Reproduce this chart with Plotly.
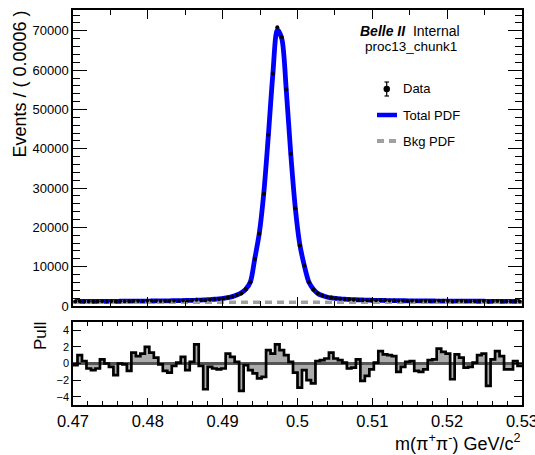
import numpy as np
import plotly.graph_objects as go

# ---- binning -------------------------------------------------------------
mass_range = [0.47, 0.53]
bin_width = 0.0006
n_bins = 100

# ---- events per bin (m(pi+pi-) histogram) --------------------------------
events = [
    1143, 1189, 1170, 1145, 1143, 1154, 1197, 1186, 1178, 1150,
    1205, 1209, 1189, 1274, 1269, 1288, 1327, 1313, 1304, 1288,
    1274, 1282, 1329, 1364, 1413, 1380, 1448, 1564, 1508, 1449,
    1620, 1691, 1788, 1925, 2190, 2439, 2811, 3208, 4300, 6040,
    12000, 18360, 28550, 43580, 59120, 70900, 68440, 55120, 38740, 24890,
    15380, 10290, 6040, 4143, 3217, 2671, 2324, 2139, 1956, 1837,
    1739, 1644, 1592, 1586, 1445, 1436, 1438, 1444, 1475, 1439,
    1417, 1397, 1313, 1322, 1332, 1325, 1272, 1259, 1261, 1292,
    1288, 1327, 1306, 1291, 1176, 1276, 1256, 1209, 1207, 1219,
    1246, 1248, 1108, 1215, 1246, 1221, 1162, 1158, 1188, 1165,
]

# ---- pull per bin: (data - fit) / error ---------------------------------
pulls = [
    -0.2, 1.0, 0.3, -0.6, -0.8, -0.6, 0.5, 0.0, -0.4, -1.4,
    0.0, -0.1, -0.9, 1.3, 0.9, 1.2, 2.0, 1.3, 0.7, -0.1,
    -0.9, -1.1, -0.3, 0.1, 0.8, -0.8, 0.2, 2.3, -0.3, -3.1,
    -0.4, -0.6, -0.7, -0.6, 1.2, 0.8, 0.2, -3.3, -0.2, -0.8,
    -1.2, -1.8, -1.6, 1.6, 1.2, 2.3, 1.6, 1.0, 0.2, -1.1,
    -2.9, -0.8, -2.0, -2.4, 0.3, 0.4, 0.6, 1.3, 0.6, 0.4,
    0.1, -0.6, -0.5, 0.5, -2.1, -1.5, -0.7, 0.1, 1.5, 1.1,
    1.0, 0.9, -1.0, -0.4, 0.2, 0.3, -0.9, -1.0, -0.7, 0.4,
    0.5, 1.8, 1.4, 1.2, -1.9, 1.1, 0.7, -0.5, -0.4, 0.1,
    1.0, 1.2, -2.7, 0.5, 1.5, 0.9, -0.7, -0.7, 0.3, -0.3,
]

# background PDF level at the two ends of the mass window
bkg_pdf_ends = [980, 930]

# axis tick labels
main_y_ticks = [0, 10000, 20000, 30000, 40000, 50000, 60000, 70000]
mass_ticks = [0.47, 0.48, 0.49, 0.50, 0.51, 0.52, 0.53]
mass_tick_labels = ["0.47", "0.48", "0.49", "0.5", "0.51", "0.52", "0.53"]
pull_ticks = [-4, -2, 0, 2, 4]
pull_tick_labels = ["\u22124", "\u22122", "0", "2", "4"]

# ---- derived quantities --------------------------------------------------
edges = np.linspace(mass_range[0], mass_range[1], n_bins + 1)
centers = 0.5 * (edges[:-1] + edges[1:])
counts = np.array(events, dtype=float)
errors = np.sqrt(counts)
total_pdf = counts - np.array(pulls) * errors

W, H = 535, 455
FONT = "Liberation Sans"


def px(x):
    return x / W


def py(y):
    return 1 - y / H


x_dom = [px(73), px(522)]
main_dom = [py(306), py(10)]
pull_dom = [py(405), py(322)]

fig = go.Figure()

# main panel: total PDF, background PDF, data
fig.add_trace(go.Scatter(
    x=centers, y=total_pdf, mode="lines",
    line=dict(color="#0000ff", width=4.8, shape="spline", smoothing=0.8),
    xaxis="x", yaxis="y", hoverinfo="skip"))
fig.add_trace(go.Scatter(
    x=mass_range, y=bkg_pdf_ends, mode="lines",
    line=dict(color="#a0a0a0", width=3.5, dash="7px,5px"),
    xaxis="x", yaxis="y", hoverinfo="skip"))
fig.add_trace(go.Scatter(
    x=centers, y=counts, mode="markers",
    marker=dict(color="black", size=4),
    error_y=dict(type="data", array=errors, thickness=1, width=0, color="black"),
    xaxis="x", yaxis="y"))

# pull panel: filled bars, zero line, step outline
fig.add_trace(go.Bar(
    x=centers, y=pulls, width=bin_width,
    marker=dict(color="#ababab", line=dict(width=0)),
    xaxis="x2", yaxis="y2", hoverinfo="skip"))
fig.add_trace(go.Scatter(
    x=mass_range, y=[0, 0], mode="lines",
    line=dict(color="#555555", width=3),
    xaxis="x2", yaxis="y2", hoverinfo="skip"))
fig.add_trace(go.Scatter(
    x=edges, y=list(pulls) + [pulls[-1]], mode="lines",
    line=dict(color="black", width=2.7, shape="hv"),
    xaxis="x2", yaxis="y2", hoverinfo="skip"))

axis_common = dict(
    showline=True, linecolor="black", linewidth=1.5, mirror="ticks",
    ticks="inside", tickcolor="black", tickwidth=1,
    showgrid=False, zeroline=False, automargin=False,
    tickfont=dict(family=FONT, color="black"),
)

fig.update_layout(
    width=W, height=H,
    margin=dict(l=0, r=0, t=0, b=0, autoexpand=False),
    paper_bgcolor="white", plot_bgcolor="white",
    showlegend=False, bargap=0,
    font=dict(family=FONT, color="black"),
    xaxis=dict(
        axis_common, domain=x_dom, range=mass_range, anchor="y",
        tick0=mass_range[0], dtick=0.01, ticklen=9, showticklabels=False,
        minor=dict(ticks="inside", tick0=mass_range[0], dtick=0.005,
                   ticklen=5, tickcolor="black"),
    ),
    yaxis=dict(
        axis_common, domain=main_dom, range=[0, 75300], anchor="x",
        tickmode="array", tickvals=main_y_ticks, tickformat="d", ticklen=14,
        tickfont=dict(family=FONT, size=13, color="black"),
        minor=dict(ticks="inside", tickmode="linear", tick0=0, dtick=2000,
                   ticklen=7, tickcolor="black"),
    ),
    xaxis2=dict(
        axis_common, domain=x_dom, range=mass_range, anchor="y2",
        tickmode="array", tickvals=mass_ticks, ticktext=mass_tick_labels,
        ticklabeloverflow="allow",
        ticklen=7, tickfont=dict(family=FONT, size=16.5, color="black"),
        minor=dict(ticks="inside", tickmode="linear", tick0=mass_range[0],
                   dtick=0.002, ticklen=4, tickcolor="black"),
    ),
    yaxis2=dict(
        axis_common, domain=pull_dom, range=[-5, 5], anchor="x2",
        tickmode="array", tickvals=pull_ticks, ticktext=pull_tick_labels,
        ticklen=8, tickfont=dict(family=FONT, size=11, color="black"),
    ),
)

annotations = [
    dict(text="Events / ( 0.0006 )", textangle=-90, x=px(19), y=py(9),
         xanchor="center", yanchor="top", font=dict(size=18)),
    dict(text="Pull", textangle=-90, x=px(40), y=py(320),
         xanchor="center", yanchor="top", font=dict(size=17)),
    dict(text="m(\u03c0<sup>+</sup>\u03c0<sup>-</sup>) GeV/c<sup>2</sup>",
         x=px(522), y=py(442), xanchor="right", yanchor="middle",
         font=dict(size=18)),
    dict(text="<b><i>Belle II</i></b>\u00a0 Internal", x=px(410), y=py(31),
         xanchor="center", yanchor="middle", font=dict(size=14)),
    dict(text="proc13_chunk1", x=px(410.5), y=py(47),
         xanchor="center", yanchor="middle", font=dict(size=13.5)),
    dict(text="Data", x=px(401), y=py(89), xanchor="left", yanchor="middle",
         font=dict(size=13)),
    dict(text="Total PDF", x=px(401), y=py(115), xanchor="left",
         yanchor="middle", font=dict(size=13)),
    dict(text="Bkg PDF", x=px(401), y=py(141), xanchor="left",
         yanchor="middle", font=dict(size=13)),
]
for a in annotations:
    a.update(xref="paper", yref="paper", showarrow=False)
fig.update_layout(annotations=annotations)

# legend glyphs
shapes = [
    # data: error bar with caps and a filled dot
    dict(type="line", x0=px(386.7), x1=px(386.7), y0=py(82), y1=py(96),
         line=dict(color="black", width=1.2)),
    dict(type="line", x0=px(384.5), x1=px(389), y0=py(82), y1=py(82),
         line=dict(color="black", width=1.2)),
    dict(type="line", x0=px(384.5), x1=px(389), y0=py(96), y1=py(96),
         line=dict(color="black", width=1.2)),
    dict(type="circle", x0=px(383.5), x1=px(390), y0=py(92.2), y1=py(85.8),
         fillcolor="black", line=dict(color="black", width=0)),
    # total PDF
    dict(type="line", x0=px(377), x1=px(397), y0=py(115), y1=py(115),
         line=dict(color="#0000ff", width=4.5)),
    # background PDF
    dict(type="line", x0=px(377), x1=px(396), y0=py(141), y1=py(141),
         line=dict(color="#a0a0a0", width=4, dash="7px,5px")),
]
for s in shapes:
    s.update(xref="paper", yref="paper")
fig.update_layout(shapes=shapes)

fig.write_html("out.html", config={"displayModeBar": False})
